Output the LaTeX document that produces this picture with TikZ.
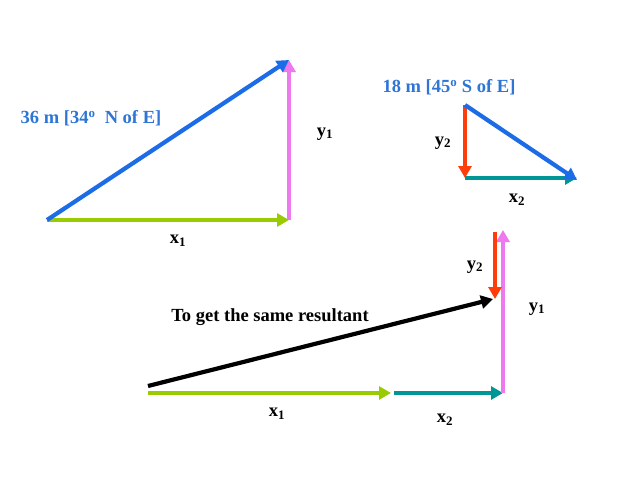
\documentclass[tikz,border=0pt]{standalone}
\usepackage{fontspec}
\setmainfont{Liberation Serif}
\usetikzlibrary{arrows.meta}
\definecolor{vecblue}{RGB}{28,108,232}
\definecolor{txtblue}{RGB}{46,117,214}
\definecolor{vecgreen}{RGB}{153,204,0}
\definecolor{vecpink}{RGB}{238,120,238}
\definecolor{vecred}{RGB}{255,60,10}
\definecolor{vecteal}{RGB}{0,150,150}
\tikzset{
  vec/.style={line width=4.2pt, -{Triangle[length=12pt,width=13pt]}},
  lbl/.style={font=\bfseries\fontsize{18.5}{22}\selectfont, inner sep=1pt},
}
\begin{document}
\begin{tikzpicture}[x=1pt,y=-1pt]
    \useasboundingbox (0,0) rectangle (638,479);
    % first vector and its components
    \coordinate (tailA) at (47,220);
    \coordinate (cornerA) at (289,220);
    \coordinate (tipA) at (289,60);
    \draw[vec, vecgreen] (tailA) -- (cornerA);
    \draw[vec, vecpink] (cornerA) -- (tipA);
    \draw[vec, vecblue] (tailA) -- (tipA);
    \node[lbl, txtblue] (magA) at (91,118) {36 m [34\textsuperscript{o}\ \ N of E]};
    \node[lbl] (yoneA) at (325,134) {y\textsubscript{1}};
    \node[lbl] (xoneA) at (178,241) {x\textsubscript{1}};

    % second vector and its components
    \coordinate (tailB) at (465,105);
    \coordinate (cornerB) at (465,178);
    \coordinate (tipB) at (577,180);
    \draw[vec, vecred] (tailB) -- (cornerB);
    \draw[vec, vecteal] (cornerB) -- (tipB |- cornerB);
    \draw[vec, vecblue] (tailB) -- (tipB);
    \node[lbl, txtblue] (magB) at (449,87) {18 m [45\textsuperscript{o} S of E]};
    \node[lbl] (ytwoB) at (443,143) {y\textsubscript{2}};
    \node[lbl] (xtwoB) at (517,200) {x\textsubscript{2}};

    % adding the components
    \coordinate (start) at (148,393);
    \coordinate (midx) at (391,393);
    \coordinate (endx) at (503,393);
    \coordinate (topy) at (503,230);
    \coordinate (redtop) at (495,232);
    \coordinate (redend) at (495,299);
    \draw[vec, vecgreen] (start) -- (midx);
    \draw[vec, vecteal] ([xshift=3pt]midx) -- (endx);
    \draw[vec, vecpink] (endx) -- (topy);
    \draw[vec, vecred] (redtop) -- (redend);
    \draw[vec, black] ([yshift=7pt]start) -- ([xshift=-2pt]redend);
    \node[lbl] (same) at (270,317) {To get the same resultant};
    \node[lbl] (ytwoC) at (475,267) {y\textsubscript{2}};
    \node[lbl] (yoneC) at (537,309) {y\textsubscript{1}};
    \node[lbl] (xoneC) at (277,414) {x\textsubscript{1}};
    \node[lbl] (xtwoC) at (445,420) {x\textsubscript{2}};
\end{tikzpicture}
\end{document}
